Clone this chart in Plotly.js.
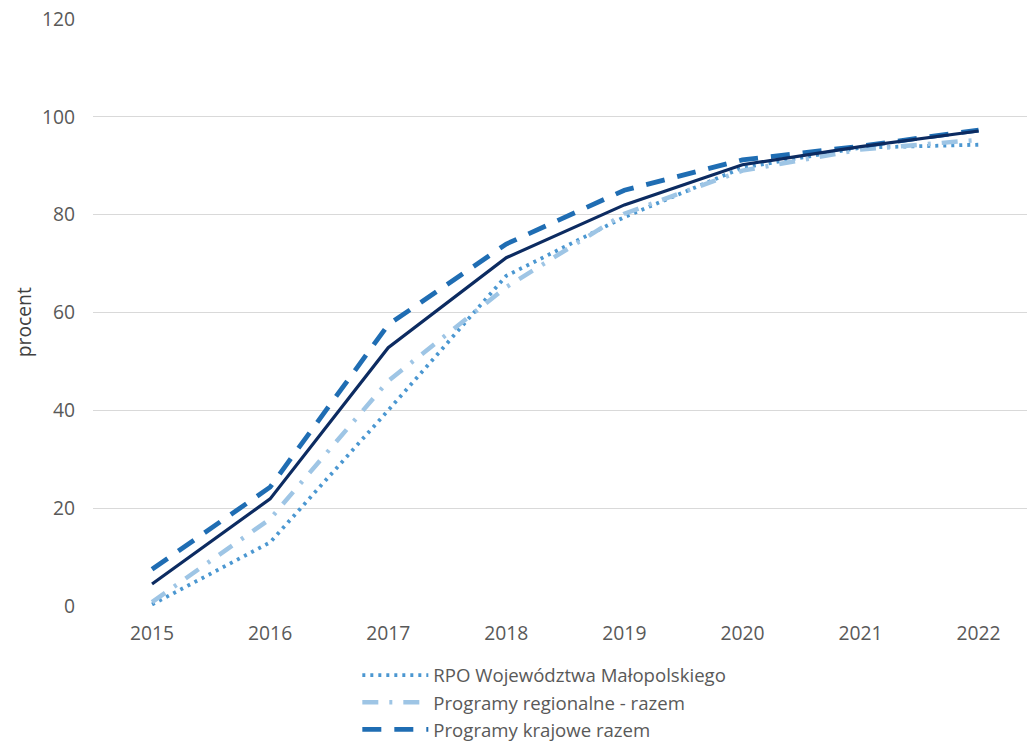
<!DOCTYPE html>
<html><head><meta charset="utf-8">
<script src="https://cdn.plot.ly/plotly-3.0.1.min.js"></script>
<style>html,body{margin:0;padding:0;background:#fff}#c{width:1027px;height:748px}</style>
</head><body><div id="c"></div>
<script>
const years = ['2015','2016','2017','2018','2019','2020','2021','2022'];
const rpoMalopolska = [0.3, 13.0, 40.0, 67.5, 79.5, 89.6, 93.7, 94.3];
const regionalneRazem = [0.8, 17.8, 46.0, 65.2, 80.2, 89.0, 93.3, 95.3];
const krajoweRazem = [7.5, 24.3, 57.5, 74.0, 85.0, 91.2, 94.0, 97.3];
const ogolem = [4.5, 21.9, 52.8, 71.2, 82.0, 90.2, 93.9, 97.1];
const yTicks = [0, 20, 40, 60, 80, 100, 120];

const font = 'Open Sans, Noto Sans, sans-serif';
const fs = 19.3;
const traces = [
  {x: years, y: rpoMalopolska, name: 'RPO Województwa Małopolskiego', mode: 'lines',
   line: {color: '#4b97d1', width: 3.8, dash: '3px,5px'}},
  {x: years, y: regionalneRazem, name: 'Programy regionalne - razem', mode: 'lines',
   line: {color: '#9ec5e5', width: 4.5, dash: '16px,11px,3px,11px'}},
  {x: years, y: krajoweRazem, name: 'Programy krajowe razem', mode: 'lines',
   line: {color: '#1f6db3', width: 4.8, dash: '19px,13px'}},
  {x: years, y: ogolem, name: 'Ogółem', mode: 'lines', showlegend: false,
   line: {color: '#0c2b61', width: 3.2}}
];
const layout = {
  width: 1027, height: 748,
  margin: {l: 93, r: 0, t: 19, b: 142, autoexpand: false},
  paper_bgcolor: '#fff', plot_bgcolor: '#fff',
  font: {family: font, size: fs, color: '#595959'},
  showlegend: true,
  legend: {orientation: 'v', x: 0.283, xanchor: 'left', y: -0.086, yanchor: 'top',
           font: {family: font, size: 18.6, color: '#595959'}, itemwidth: 66,
           tracegroupgap: 0, bgcolor: 'rgba(0,0,0,0)'},
  xaxis: {type: 'category', range: [-0.5, 7.41], showgrid: false, zeroline: false,
          showline: false, ticks: '', ticklabelstandoff: 14, automargin: false,
          tickfont: {family: font, size: fs, color: '#595959'}},
  yaxis: {range: [0, 120], tickvals: yTicks, showgrid: true, gridcolor: '#d9d9d9', gridwidth: 1.3,
          zeroline: false, showline: false, ticks: '', ticklabelstandoff: 17, automargin: false,
          tickfont: {family: font, size: fs, color: '#595959'}},
  annotations: [{text: 'procent', xref: 'paper', yref: 'y', x: 0, y: 58, xshift: -70,
                 textangle: -90, showarrow: false, xanchor: 'center', yanchor: 'middle',
                 font: {family: font, size: fs, color: '#404040'}}]
};
Plotly.newPlot('c', traces, layout, {displayModeBar: false, staticPlot: true});
</script></body></html>
